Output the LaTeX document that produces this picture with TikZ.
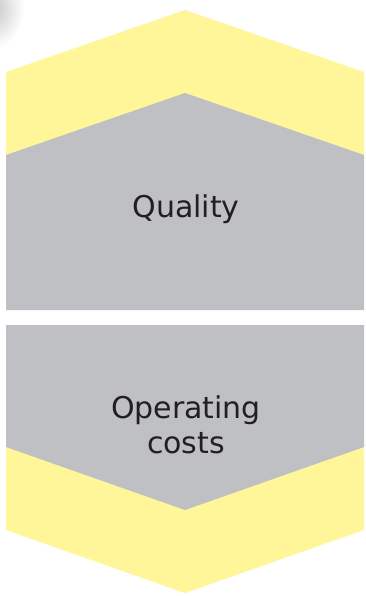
\documentclass[tikz,border=0pt]{standalone}
\usepackage{fontspec}
\setmainfont{DejaVu Sans}
\definecolor{hexyellow}{HTML}{FFF599}
\definecolor{hexgray}{HTML}{BFC0C4}
\definecolor{txt}{HTML}{231F20}
\begin{document}
\begin{tikzpicture}[x=1pt,y=-1pt,
  label/.style={text=txt,font=\fontsize{30}{35}\selectfont,align=center,inner sep=0pt}]
\useasboundingbox (0,0) rectangle (366,596);
\fill[white] (0,0) rectangle (366,596);
% faint shadow top-left
\begin{scope}
\clip (0,0) rectangle (45,55);
\shade[inner color=black!22,outer color=white] (-6,8) ellipse (30 and 40);
\end{scope}
% top yellow
\fill[hexyellow] (6,72) -- (185,10) -- (364,72) -- (364,160) -- (6,160) -- cycle;
% top gray
\fill[hexgray] (6,155) -- (185,93) -- (364,155) -- (364,310) -- (6,310) -- cycle;
% bottom yellow
\fill[hexyellow] (6,440) -- (364,440) -- (364,530) -- (185,593) -- (6,530) -- cycle;
% bottom gray
\fill[hexgray] (6,325) -- (364,325) -- (364,447) -- (185,510) -- (6,447) -- cycle;
\node[label] (q) at (186,209) {Quality};
\node[label] (oc) at (186,425) {Operating\\costs};
\end{tikzpicture}
\end{document}
